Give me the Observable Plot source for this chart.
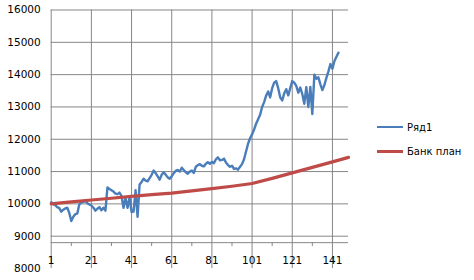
<!DOCTYPE html>
<html>
<head>
<meta charset="utf-8">
<script src="https://cdn.jsdelivr.net/npm/d3@7"></script>
<script src="https://cdn.jsdelivr.net/npm/@observablehq/plot@0.6"></script>
<style>
  html, body { margin: 0; padding: 0; background: #fff; }
  #wrap { position: relative; width: 474px; height: 280px; font-family: "DejaVu Sans", sans-serif; }
  .leg { position: absolute; left: 377px; display: flex; align-items: center; font-size: 10px; color: #000; }
  .sw { width: 26px; margin-right: 4px; }
</style>
</head>
<body>
<div id="wrap"></div>
<script>
// Series "Ряд1" (index 1..144)
const seriesName1 = "Ряд1";
const ryad1 = [
  10050, 10000, 9960, 9900, 9870, 9760, 9820, 9860, 9880, 9720,
  9470, 9600, 9680, 9700, 9990, 10040, 10060, 10100, 10020, 9980,
  9950, 9880, 9790, 9850, 9900, 9800, 9880, 9790, 10510, 10460,
  10420, 10380, 10320, 10300, 10350, 10250, 9880, 10180, 9880, 10200,
  9750, 9760, 10420, 9600, 10600, 10680, 10780, 10720, 10700, 10800,
  10900, 11030, 10950, 10850, 10750, 10900, 10980, 10900, 10820, 10780,
  10850, 10950, 11020, 11050, 11000, 11120, 11050, 10980, 10930, 11000,
  11030, 10960, 11150, 11200, 11230, 11180, 11160, 11240, 11290, 11240,
  11300, 11260, 11380, 11440, 11350, 11360, 11400, 11280, 11200, 11150,
  11180, 11080, 11100, 11060, 11150, 11230, 11380, 11620, 11860, 12030,
  12150, 12300, 12480, 12620, 12760, 13000, 13150, 13350, 13480, 13300,
  13580, 13750, 13800, 13580, 13300, 13200, 13420, 13550, 13360, 13580,
  13800, 13750, 13650, 13440, 13600, 13400, 13100, 13610, 13000, 13620,
  12780, 14000, 13870, 13920, 13700, 13520, 13680, 13900, 14100, 14330,
  14180, 14420, 14550, 14680
];
// Series "Банк план" read at sample indices
const seriesName2 = "Банк план";
const bankIdx = [1, 11, 21, 31, 41, 51, 61, 71, 81, 91, 101, 111, 121, 131, 141, 149];
const bankVal = [10000, 10060, 10120, 10175, 10230, 10285, 10335, 10400, 10470, 10545, 10630, 10790, 10960, 11130, 11300, 11440];

const xLabels = [1, 21, 41, 61, 81, 101, 121, 141];
const xMinor = [11, 31, 51, 71, 91, 111, 131];
const yTicks = [8000, 9000, 10000, 11000, 12000, 13000, 14000, 15000, 16000];
const yGrid = [9000, 10000, 11000, 12000, 13000, 14000, 15000, 16000];
const xDomain = [1, 149];
const axisCross = 8800;

const blueColor = "#4A7EBB";
const redColor = "#BE4B48";
const gridColor = "#878787";

const ryadData = ryad1.map((v, i) => ({x: i + 1, y: v}));
const bankData = bankIdx.map((x, i) => ({x, y: bankVal[i]}));

const chart = Plot.plot({
  width: 474,
  height: 280,
  marginLeft: 50.7,
  marginRight: 126,
  marginTop: 9.5,
  marginBottom: 12,
  style: {fontFamily: "DejaVu Sans, sans-serif", fontSize: "10px", color: "#000", background: "#fff"},
  x: {domain: xDomain, axis: null},
  y: {domain: [8000, 16000]},
  marks: [
    Plot.ruleY(yGrid, {stroke: gridColor, strokeWidth: 1}),
    Plot.ruleX(xLabels, {y1: 8000, y2: 16000, stroke: gridColor, strokeWidth: 1}),
    Plot.ruleY([axisCross], {stroke: gridColor, strokeWidth: 1}),
    Plot.ruleX(xMinor, {y1: axisCross, y2: axisCross - 120, stroke: gridColor, strokeWidth: 1}),
    Plot.text(xLabels, {x: d => d, y: axisCross, dy: 18, text: d => String(d), fill: "#000", fontSize: 10.5}),
    Plot.axisY({ticks: yTicks, tickSize: 0, tickPadding: 10.5, tickFormat: d => String(d), label: null, fontSize: 10.5, fill: "#000"}),
    Plot.line(ryadData, {x: "x", y: "y", stroke: blueColor, strokeWidth: 2.4, strokeLinejoin: "round"}),
    Plot.line(bankData, {x: "x", y: "y", stroke: redColor, strokeWidth: 3.2, strokeLinejoin: "round"})
  ]
});

const wrap = document.getElementById("wrap");
wrap.appendChild(chart);

function legendItem(label, color, width, top) {
  const d = document.createElement("div");
  d.className = "leg";
  d.style.top = (top - 7) + "px";
  d.style.height = "14px";
  const s = document.createElement("div");
  s.className = "sw";
  s.style.height = width + "px";
  s.style.background = color;
  const t = document.createElement("span");
  t.textContent = label;
  d.appendChild(s);
  d.appendChild(t);
  wrap.appendChild(d);
}
legendItem(seriesName1, blueColor, 2.5, 127);
legendItem(seriesName2, redColor, 3.5, 151.5);
</script>
</body>
</html>
